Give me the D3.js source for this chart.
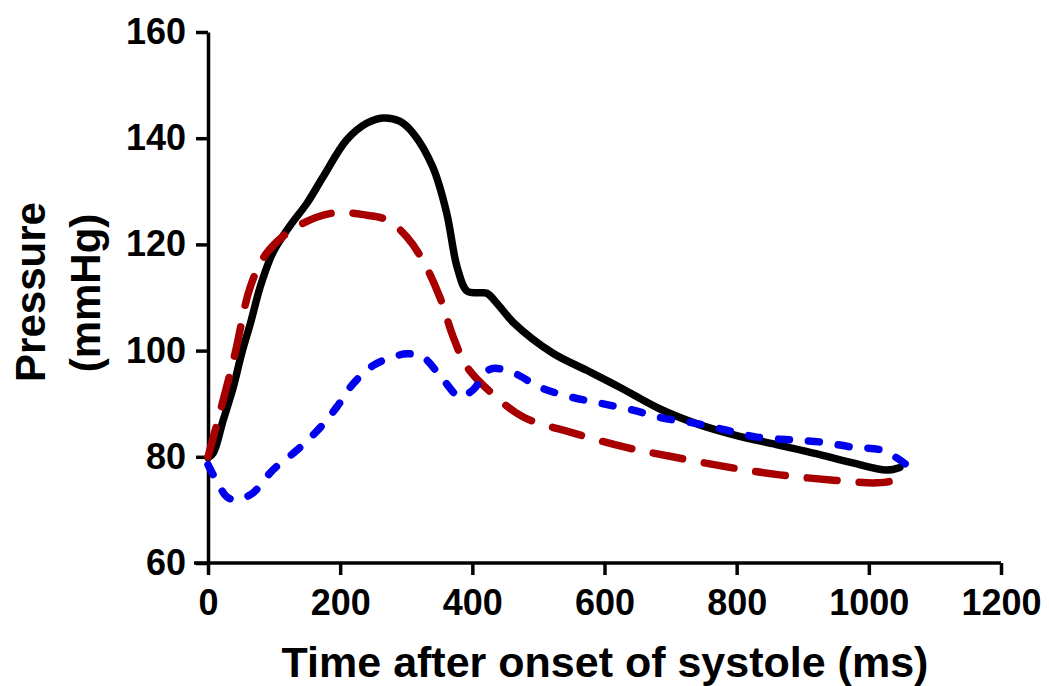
<!DOCTYPE html>
<html>
<head>
<meta charset="utf-8">
<script src="https://cdn.jsdelivr.net/npm/d3@7"></script>
<style>
html,body{margin:0;padding:0;background:#fff;}
svg{display:block;font-family:"Liberation Sans",Arial,sans-serif;font-weight:bold;}
</style>
</head>
<body>
<svg id="chart" width="1049" height="686"></svg>
<script>
// Data (time in ms, pressure in mmHg)
const xTicks = [0, 200, 400, 600, 800, 1000, 1200];
const yTicks = [60, 80, 100, 120, 140, 160];
const xTitle = "Time after onset of systole (ms)";
const yTitle = ["Pressure", "(mmHg)"];

const blackT = [0, 8, 23, 38, 51, 65, 79, 98, 124, 150, 174, 210, 240, 265, 290, 310, 340, 361, 377, 392, 410, 422, 440, 462, 522, 573, 623, 684, 740, 800, 860, 920, 971, 1027, 1047];
const blackP = [79.8, 80.7, 86.9, 93, 99.5, 105.5, 112, 118.4, 123.5, 127.8, 132.7, 139.7, 142.8, 143.8, 143.2, 141, 134.6, 126, 115.7, 111.2, 110.9, 110.8, 108.5, 105.3, 99.5, 96.3, 93.1, 89, 86.2, 84, 82.3, 80.6, 79, 77.5, 78];

const redT = [0, 15, 41, 64, 89, 134, 189, 240, 271, 301, 325, 351, 371, 392, 431, 477, 552, 628, 703, 785, 865, 946, 1012, 1035, 1047];
const redP = [80, 86.9, 99.5, 112, 118.4, 123.3, 125.9, 125.5, 124.6, 121.4, 117, 110, 102.6, 96.9, 91.8, 87.5, 84.5, 81.9, 80, 78.1, 76.6, 75.6, 75.1, 75.5, 76.6];

const blueT = [0, 15, 29, 45, 68, 98, 135, 169, 195, 220, 250, 280, 301, 325, 356, 381, 401, 427, 462, 502, 548, 593, 643, 688, 734, 785, 830, 880, 926, 976, 1021, 1057];
const blueP = [78.5, 75, 72.4, 71.9, 73.2, 77.5, 81.3, 85.4, 89.4, 93.8, 97.2, 98.8, 99.4, 98.8, 94.5, 91.3, 92.6, 96.5, 95.8, 93.1, 91.3, 90.1, 88.8, 87.3, 86.4, 85, 83.7, 83.2, 82.8, 81.8, 81.2, 78.5];

const svg = d3.select("#chart");
const x = d3.scaleLinear().domain([0, 1200]).range([208, 1001]);
const y = d3.scaleLinear().domain([60, 160]).range([563, 32]);

// Axes
const xAxis = d3.axisBottom(x).tickValues(xTicks).tickFormat(d3.format("d")).tickSize(12).tickSizeOuter(0).tickPadding(14);
const yAxis = d3.axisLeft(y).tickValues(yTicks).tickFormat(d3.format("d")).tickSize(12).tickSizeOuter(0).tickPadding(10);

const gx = svg.append("g").attr("transform", "translate(0,563)").call(xAxis);
const gy = svg.append("g").attr("transform", "translate(208,0)").call(yAxis);
[gx, gy].forEach(g => {
  g.selectAll("path.domain").attr("stroke", "#000").attr("stroke-width", 3.5);
  g.selectAll(".tick line").attr("stroke", "#000").attr("stroke-width", 3.5);
  g.selectAll(".tick text").attr("fill", "#000")
    .style("font-family", '"Liberation Sans", Arial, sans-serif')
    .style("font-weight", "bold").style("font-size", "36px");
});
gx.select("path.domain").attr("d", `M${x(0)-14},0H${x(1200)}`);

// Titles
svg.append("text").attr("x", 605).attr("y", 677).attr("text-anchor", "middle")
  .style("font-size", "43px").attr("fill", "#000").text(xTitle);
svg.append("text").attr("transform", "translate(45,292) rotate(-90)").attr("text-anchor", "middle")
  .style("font-size", "42px").attr("fill", "#000").text(yTitle[0]);
svg.append("text").attr("transform", "translate(100,293) rotate(-90)").attr("text-anchor", "middle")
  .style("font-size", "42px").attr("fill", "#000").text(yTitle[1]);

// Lines
const line = d3.line().x(d => x(d[0])).y(d => y(d[1])).curve(d3.curveCatmullRom.alpha(0.5));
const series = [
  {t: blackT, p: blackP, color: "#000000", dash: null},
  {t: redT, p: redP, color: "#a80000", dash: "30 22"},
  {t: blueT, p: blueP, color: "#0000ee", dash: "11 19"}
];
series.forEach(s => {
  svg.append("path")
    .datum(s.t.map((t, i) => [t, s.p[i]]))
    .attr("d", line)
    .attr("fill", "none")
    .attr("stroke", s.color)
    .attr("stroke-width", 7.5)
    .attr("stroke-linecap", "round")
    .attr("stroke-linejoin", "round")
    .attr("stroke-dasharray", s.dash);
});
</script>
</body>
</html>
